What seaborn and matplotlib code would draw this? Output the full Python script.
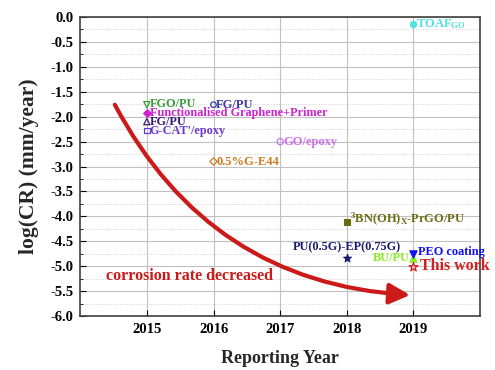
import matplotlib
matplotlib.use("Agg")
import matplotlib.pyplot as plt
import seaborn as sns
import pandas as pd
from matplotlib.ticker import MultipleLocator

# ---- data ----
labels = ["FGO/PU", "FG/PU", "Functionalised Graphene+Primer", "FG/PU",
          "G-CAT'/epoxy", "GO/epoxy", "0.5%G-E44",
          r"$^{3}$BN(OH)$_{X}$-PrGO/PU", "PU(0.5G)-EP(0.75G)", "BU/PU",
          "PEO coating", "This work", r"TOAF$_{GO}$"]
years = [2015, 2016, 2015, 2015, 2015, 2017, 2016, 2018, 2018, 2019, 2019, 2019, 2019]
logcr = [-1.76, -1.76, -1.92, -2.10, -2.28, -2.50, -2.90, -4.12, -4.84, -4.83, -4.75, -5.02, -0.15]
xticks = [2015, 2016, 2017, 2018, 2019]

# ---- styles ----
colors = ["#3a9a3a", "#3a3aa0", "#d020d0", "#3a1a70", "#6a3ad0", "#cc70ee", "#d07a20",
          "#6b6b10", "#1a1a70", "#88ee22", "#1010ee", "#d02020", "#50e0e0"]
markers = ["v", "o", "D", "^", "s", "o", "D", "s", "*", "^", "v", "*", "o"]
filled = [False, False, True, False, False, False, False, True, True, True, True, False, True]
msize = [20, 16, 16, 20, 16, 20, 14, 18, 35, 28, 28, 45, 20]
offsets = [(2, 0.5), (2, 0), (2, -0.5), (2, 0), (2, -0.5), (2, 0), (2, 0), (2, 2),
           (0, 8), (-3, 0), (3, 1), (5, 1), (2, 0)]
has = ["left"] * 8 + ["center", "right", "left", "left", "left"]
fsizes = [8.8, 9, 8.8, 8.8, 8.8, 9, 9, 9, 8.8, 8.8, 8.8, 11.5, 9]

sns.set_theme(style="white")
plt.rcParams["font.family"] = ["Liberation Serif", "DejaVu Serif"]
plt.rcParams["font.weight"] = "bold"
plt.rcParams["mathtext.fontset"] = "custom"
plt.rcParams["mathtext.rm"] = "Liberation Serif:bold"
plt.rcParams["mathtext.it"] = "Liberation Serif:bold"
plt.rcParams["mathtext.bf"] = "Liberation Serif:bold"

fig = plt.figure(figsize=(4.95, 3.7), dpi=100)
ax = fig.add_axes([0.162, 0.146, 0.808, 0.808])

df = pd.DataFrame({"year": years, "logcr": logcr})
for i in range(len(labels)):
    sub = df.iloc[[i]]
    if filled[i]:
        sns.scatterplot(data=sub, x="year", y="logcr", ax=ax, marker=markers[i],
                        s=msize[i], color=colors[i], edgecolor=colors[i], linewidth=0.8,
                        zorder=5, legend=False)
    else:
        sns.scatterplot(data=sub, x="year", y="logcr", ax=ax, marker=markers[i],
                        s=msize[i], facecolor="none", edgecolor=colors[i], linewidth=0.9,
                        zorder=5, legend=False)
    ax.annotate(labels[i], (years[i], logcr[i]), xytext=offsets[i], textcoords="offset points",
                ha=has[i], va="center", color=colors[i], fontsize=fsizes[i],
                fontweight="bold", zorder=6, annotation_clip=False)

# red trend arrow
ax.annotate("", xy=(2018.95, -5.58), xytext=(2014.52, -1.76),
            arrowprops=dict(arrowstyle="-|>,head_length=0.9,head_width=0.45",
                            color="#cc1a1a", lw=3.0, mutation_scale=14,
                            connectionstyle="arc3,rad=0.28", shrinkA=0, shrinkB=0),
            zorder=4)
ax.text(2014.38, -5.2, "corrosion rate decreased", color="#cc1a1a", fontsize=11.5,
        fontweight="bold", ha="left", va="center")

ax.set_xlim(2014, 2020)
ax.set_ylim(-6.0, 0.0)
ax.set_xticks(xticks)
ax.set_xticklabels([str(x) for x in xticks])
ax.yaxis.set_major_locator(MultipleLocator(0.5))
ax.yaxis.set_minor_locator(MultipleLocator(0.25))
ax.set_yticklabels([f"{v:.1f}" for v in ax.get_yticks()])
ax.grid(True, which="major", color="#c0c0c0", lw=0.8, ls="-")
ax.grid(True, which="minor", axis="y", color="#c8c8c8", lw=0.6, ls=":")
ax.set_axisbelow(True)
ax.tick_params(which="both", direction="in", left=True, bottom=True,
               labelsize=10.5, colors="black")
ax.tick_params(which="major", length=4, width=0.8, pad=5)
ax.tick_params(which="minor", length=2, width=0.6)
for lab in ax.get_xticklabels() + ax.get_yticklabels():
    lab.set_fontweight("bold")
for sp in ax.spines.values():
    sp.set_color("#404040")
    sp.set_linewidth(1.2)

ax.set_xlabel("Reporting Year", fontsize=13, fontweight="bold", labelpad=10)
ax.set_ylabel("log(CR) (mm/year)", fontsize=15.5, fontweight="bold", labelpad=8)

fig.savefig("out.png", dpi=100)
